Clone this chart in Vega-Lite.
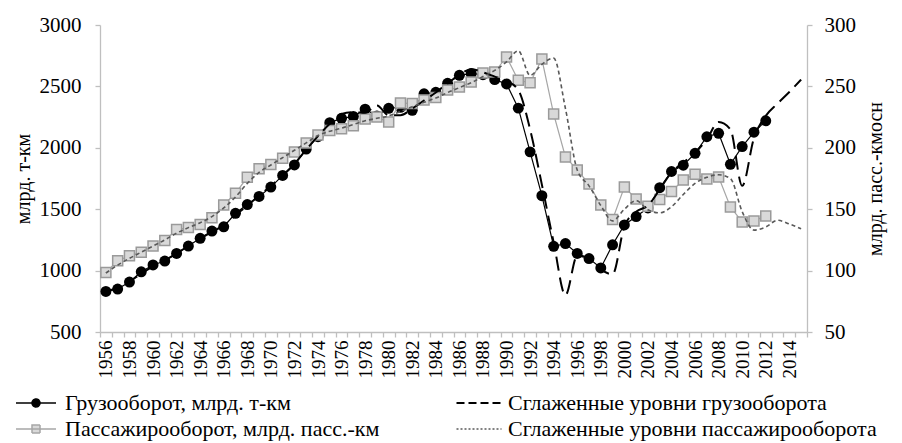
{
  "$schema": "https://vega.github.io/schema/vega-lite/v6.json",
  "width": 707,
  "height": 307,
  "autosize": {"type": "none"},
  "padding": {"left": 100, "top": 25, "right": 95, "bottom": 111},
  "background": "white",
  "config": {
    "view": {"stroke": null},
    "font": "Liberation Serif",
    "axis": {"grid": false, "domainColor": "#bfbfbf", "tickColor": "#bfbfbf", "labelColor": "#000000", "titleColor": "#000000", "titleFontWeight": "normal", "labelFont": "Liberation Serif", "titleFont": "Liberation Serif", "tickSize": 5, "domainWidth": 1.3, "tickWidth": 1.3}
  },
  "datasets": {
    "freight": [
      {"year":1956,"value":830},{"year":1957,"value":850},{"year":1958,"value":907},{"year":1959,"value":990},{"year":1960,"value":1046},{"year":1961,"value":1078},{"year":1962,"value":1140},{"year":1963,"value":1200},{"year":1964,"value":1263},{"year":1965,"value":1322},{"year":1966,"value":1357},{"year":1967,"value":1467},{"year":1968,"value":1538},{"year":1969,"value":1604},{"year":1970,"value":1680},{"year":1971,"value":1775},{"year":1972,"value":1860},{"year":1973,"value":1990},{"year":1974,"value":2090},{"year":1975,"value":2205},{"year":1976,"value":2240},{"year":1977,"value":2255},{"year":1978,"value":2315},{"year":1979,"value":2260},{"year":1980,"value":2322},{"year":1981,"value":2330},{"year":1982,"value":2305},{"year":1983,"value":2440},{"year":1984,"value":2452},{"year":1985,"value":2525},{"year":1986,"value":2590},{"year":1987,"value":2605},{"year":1988,"value":2595},{"year":1989,"value":2555},{"year":1990,"value":2520},{"year":1991,"value":2323},{"year":1992,"value":1967},{"year":1993,"value":1610},{"year":1994,"value":1198},{"year":1995,"value":1220},{"year":1996,"value":1140},{"year":1997,"value":1098},{"year":1998,"value":1022},{"year":1999,"value":1210},{"year":2000,"value":1372},{"year":2001,"value":1440},{"year":2002,"value":1510},{"year":2003,"value":1675},{"year":2004,"value":1807},{"year":2005,"value":1858},{"year":2006,"value":1955},{"year":2007,"value":2090},{"year":2008,"value":2118},{"year":2009,"value":1866},{"year":2010,"value":2010},{"year":2011,"value":2127},{"year":2012,"value":2220}
    ],
    "passenger": [
      {"year":1956,"value":98.5},{"year":1957,"value":108},{"year":1958,"value":112},{"year":1959,"value":115},{"year":1960,"value":120},{"year":1961,"value":124.5},{"year":1962,"value":133.5},{"year":1963,"value":135},{"year":1964,"value":137.5},{"year":1965,"value":143},{"year":1966,"value":153.4},{"year":1967,"value":163},{"year":1968,"value":176},{"year":1969,"value":183},{"year":1970,"value":186.5},{"year":1971,"value":191.5},{"year":1972,"value":196.5},{"year":1973,"value":204},{"year":1974,"value":210.5},{"year":1975,"value":214},{"year":1976,"value":215.5},{"year":1977,"value":218},{"year":1978,"value":223.5},{"year":1979,"value":225},{"year":1980,"value":221},{"year":1981,"value":236.5},{"year":1982,"value":236},{"year":1983,"value":239},{"year":1984,"value":241},{"year":1985,"value":247},{"year":1986,"value":249.5},{"year":1987,"value":253.5},{"year":1988,"value":261},{"year":1989,"value":261.7},{"year":1990,"value":274},{"year":1991,"value":255},{"year":1992,"value":253},{"year":1993,"value":272.3},{"year":1994,"value":227.5},{"year":1995,"value":192.5},{"year":1996,"value":182},{"year":1997,"value":170.5},{"year":1998,"value":153.4},{"year":1999,"value":141.6},{"year":2000,"value":168},{"year":2001,"value":158.3},{"year":2002,"value":152.5},{"year":2003,"value":158},{"year":2004,"value":164.5},{"year":2005,"value":173.8},{"year":2006,"value":178.5},{"year":2007,"value":174.6},{"year":2008,"value":176.2},{"year":2009,"value":151.8},{"year":2010,"value":139.6},{"year":2011,"value":140.4},{"year":2012,"value":144.5}
    ],
    "freightSmooth": [
      {"year":1956,"value":830},{"year":1957,"value":860},{"year":1958,"value":910},{"year":1959,"value":975},{"year":1960,"value":1035},{"year":1961,"value":1085},{"year":1962,"value":1140},{"year":1963,"value":1200},{"year":1964,"value":1260},{"year":1965,"value":1315},{"year":1966,"value":1370},{"year":1967,"value":1450},{"year":1968,"value":1530},{"year":1969,"value":1610},{"year":1970,"value":1690},{"year":1971,"value":1775},{"year":1972,"value":1870},{"year":1973,"value":1985},{"year":1974,"value":2095},{"year":1975,"value":2195},{"year":1976,"value":2275},{"year":1977,"value":2290},{"year":1978,"value":2285},{"year":1979,"value":2345},{"year":1980,"value":2265},{"year":1981,"value":2265},{"year":1982,"value":2320},{"year":1983,"value":2385},{"year":1984,"value":2450},{"year":1985,"value":2525},{"year":1986,"value":2595},{"year":1987,"value":2640},{"year":1988,"value":2615},{"year":1989,"value":2580},{"year":1990,"value":2545},{"year":1991,"value":2470},{"year":1992,"value":2150},{"year":1993,"value":1700},{"year":1994,"value":1230},{"year":1995,"value":800},{"year":1996,"value":1120},{"year":1997,"value":1100},{"year":1998,"value":1010},{"year":1999,"value":970},{"year":2000,"value":1360},{"year":2001,"value":1480},{"year":2002,"value":1530},{"year":2003,"value":1660},{"year":2004,"value":1800},{"year":2005,"value":1880},{"year":2006,"value":1960},{"year":2007,"value":2070},{"year":2008,"value":2210},{"year":2009,"value":2150},{"year":2010,"value":1690},{"year":2011,"value":2080},{"year":2012,"value":2260},{"year":2013,"value":2360},{"year":2014,"value":2455},{"year":2015,"value":2555}
    ],
    "passengerSmooth": [
      {"year":1956,"value":98},{"year":1957,"value":104.5},{"year":1958,"value":110},{"year":1959,"value":115},{"year":1960,"value":120},{"year":1961,"value":125},{"year":1962,"value":130.5},{"year":1963,"value":135},{"year":1964,"value":139},{"year":1965,"value":144},{"year":1966,"value":151},{"year":1967,"value":160},{"year":1968,"value":171},{"year":1969,"value":180},{"year":1970,"value":186},{"year":1971,"value":192},{"year":1972,"value":198},{"year":1973,"value":204},{"year":1974,"value":210},{"year":1975,"value":213.5},{"year":1976,"value":216},{"year":1977,"value":219},{"year":1978,"value":222},{"year":1979,"value":224},{"year":1980,"value":226},{"year":1981,"value":229.5},{"year":1982,"value":233.5},{"year":1983,"value":237},{"year":1984,"value":240.5},{"year":1985,"value":245},{"year":1986,"value":249},{"year":1987,"value":253},{"year":1988,"value":258},{"year":1989,"value":263},{"year":1990,"value":270},{"year":1991,"value":279},{"year":1992,"value":259},{"year":1993,"value":268},{"year":1994,"value":273},{"year":1995,"value":232},{"year":1996,"value":182},{"year":1997,"value":169},{"year":1998,"value":153},{"year":1999,"value":140.5},{"year":2000,"value":150},{"year":2001,"value":157},{"year":2002,"value":149.5},{"year":2003,"value":147},{"year":2004,"value":152},{"year":2005,"value":162},{"year":2006,"value":171},{"year":2007,"value":176},{"year":2008,"value":178},{"year":2009,"value":175},{"year":2010,"value":148},{"year":2011,"value":133},{"year":2012,"value":135.5},{"year":2013,"value":141},{"year":2014,"value":138},{"year":2015,"value":134}
    ]
  },
  "encoding": {
    "x": {
      "field": "year", "type": "quantitative",
      "scale": {"domain": [1955.5, 2015.5], "nice": false, "zero": false},
      "axis": {
        "title": null,
        "values": [1955.5,1956.5,1957.5,1958.5,1959.5,1960.5,1961.5,1962.5,1963.5,1964.5,1965.5,1966.5,1967.5,1968.5,1969.5,1970.5,1971.5,1972.5,1973.5,1974.5,1975.5,1976.5,1977.5,1978.5,1979.5,1980.5,1981.5,1982.5,1983.5,1984.5,1985.5,1986.5,1987.5,1988.5,1989.5,1990.5,1991.5,1992.5,1993.5,1994.5,1995.5,1996.5,1997.5,1998.5,1999.5,2000.5,2001.5,2002.5,2003.5,2004.5,2005.5,2006.5,2007.5,2008.5,2009.5,2010.5,2011.5,2012.5,2013.5,2014.5,2015.5],
        "labelExpr": "((datum.value + 0.5) % 2 == 0 && datum.value < 2015) ? format(datum.value + 0.5, 'd') : ''",
        "labelAngle": -90,
        "labelOffset": 5.9,
        "labelFontSize": 19,
        "labelPadding": 3,
        "labelOverlap": false,
        "labelFlush": false,
        "labelBound": false
      }
    }
  },
  "layer": [
    {
      "data": {"name": "freight"},
      "mark": {"type": "line", "strokeWidth": 1.2},
      "encoding": {
        "y": {"field": "value", "type": "quantitative", "scale": {"domain": [500, 3000], "nice": false, "zero": false},
          "axis": {"orient": "left", "title": "млрд. т-км", "values": [500,1000,1500,2000,2500,3000], "format": "d", "labelFontSize": 21, "labelPadding": 14, "titleFontSize": 20, "titlePadding": 6}},
        "color": {
          "datum": "Грузооборот, млрд. т-км", "type": "nominal",
          "scale": {"domain": ["Грузооборот, млрд. т-км", "Пассажирооборот, млрд. пасс.-км", "Сглаженные уровни грузооборота", "Сглаженные уровни пассажирооборота"], "range": ["#000000", "#a6a6a6", "#000000", "#595959"]},
          "legend": {
            "title": null, "orient": "none", "legendX": -75, "legendY": 367, "columns": 2, "columnPadding": 72, "rowPadding": 4,
            "labelFont": "Liberation Serif", "labelFontSize": 22, "labelColor": "#000000", "labelLimit": 600, "labelOffset": 18,
            "symbolSize": 100,
            "encode": {"symbols": {"update": {
              "shape": {"signal": "datum.value === 'Грузооборот, млрд. т-км' ? 'M-4,0H4M-0.8,0A0.8,0.8 0 1,0 0.8,0A0.8,0.8 0 1,0 -0.8,0' : datum.value === 'Пассажирооборот, млрд. пасс.-км' ? 'M-4,0H4M-0.8,-0.8H0.8V0.8H-0.8Z' : 'M-4.5,0H4.5'"},
              "fill": {"signal": "datum.value === 'Грузооборот, млрд. т-км' ? '#000000' : datum.value === 'Пассажирооборот, млрд. пасс.-км' ? '#d9d9d9' : 'transparent'"},
              "strokeDash": {"signal": "datum.value === 'Сглаженные уровни грузооборота' ? [8,4] : datum.value === 'Сглаженные уровни пассажирооборота' ? [2,2] : [1,0]"},
              "strokeWidth": {"signal": "datum.value === 'Сглаженные уровни грузооборота' ? 2 : 1.5"},
              "opacity": {"value": 1}
            }}}
          }
        }
      }
    },
    {
      "data": {"name": "freight"},
      "mark": {"type": "point", "shape": "circle", "filled": true, "fill": "#000000", "size": 120, "opacity": 1},
      "encoding": {
        "y": {"field": "value", "type": "quantitative", "scale": {"domain": [500, 3000], "nice": false, "zero": false}, "axis": null}
      }
    },
    {
      "data": {"name": "passenger"},
      "mark": {"type": "line", "strokeWidth": 1.2, "color": "#a6a6a6"},
      "encoding": {
        "y": {"field": "value", "type": "quantitative", "scale": {"domain": [50, 300], "nice": false, "zero": false},
          "axis": {"orient": "right", "title": "млрд. пасс.-кмосн", "values": [50,100,150,200,250,300], "labelFontSize": 21, "labelPadding": 12, "titleFontSize": 20, "titleAngle": 270, "titleBaseline": "top", "titlePadding": 10}}
      }
    },
    {
      "data": {"name": "passenger"},
      "mark": {"type": "point", "shape": "square", "filled": true, "fill": "#d9d9d9", "stroke": "#9a9a9a", "strokeWidth": 1.5, "size": 100, "opacity": 1},
      "encoding": {
        "y": {"field": "value", "type": "quantitative", "scale": {"domain": [50, 300], "nice": false, "zero": false}, "axis": null}
      }
    },
    {
      "data": {"name": "freightSmooth"},
      "mark": {"type": "line", "strokeWidth": 2, "strokeDash": [14, 7], "interpolate": "monotone", "color": "#000000"},
      "encoding": {
        "y": {"field": "value", "type": "quantitative", "scale": {"domain": [500, 3000], "nice": false, "zero": false}, "axis": null}
      }
    },
    {
      "data": {"name": "passengerSmooth"},
      "mark": {"type": "line", "strokeWidth": 1.6, "strokeDash": [4, 3], "interpolate": "monotone", "color": "#595959"},
      "encoding": {
        "y": {"field": "value", "type": "quantitative", "scale": {"domain": [50, 300], "nice": false, "zero": false}, "axis": null}
      }
    }
  ],
  "resolve": {"scale": {"y": "independent"}}
}
